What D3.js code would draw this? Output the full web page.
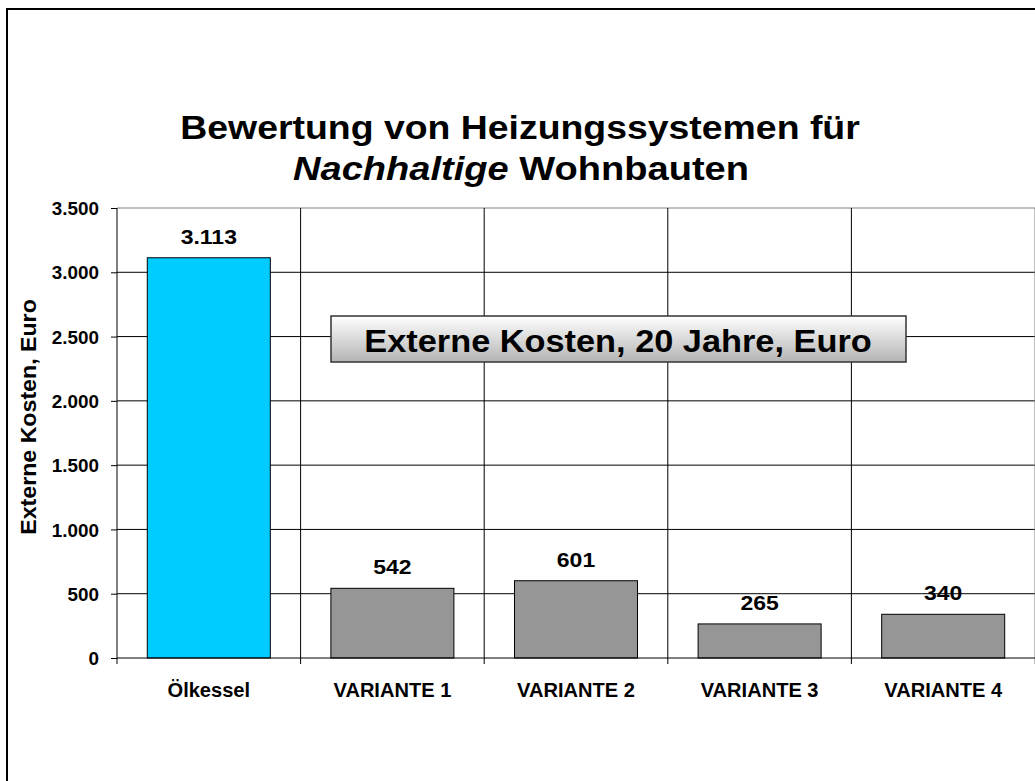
<!DOCTYPE html>
<html>
<head>
<meta charset="utf-8">
<script src="https://cdn.jsdelivr.net/npm/d3@7"></script>
<style>
  body { margin: 0; background: #fff; }
  svg { display: block; font-family: Arial, "Liberation Sans", sans-serif; }
</style>
</head>
<body>
<svg id="chart"></svg>
<script>
const categories = ["Ölkessel", "VARIANTE 1", "VARIANTE 2", "VARIANTE 3", "VARIANTE 4"];
const values = [3113, 542, 601, 265, 340];
const yTicks = [0, 500, 1000, 1500, 2000, 2500, 3000, 3500];
const barColors = ["#00ccff", "#969696", "#969696", "#969696", "#969696"];

const width = 1035, height = 781;
const margin = {top: 208, right: 0, bottom: 123, left: 117};
const FONT = "Arial, 'Liberation Sans', sans-serif";
const fmt = d => d3.format(",")(d).replace(/,/g, ".");

const svg = d3.select("#chart")
    .attr("width", width)
    .attr("height", height);

// outer frame of the chart object
svg.append("rect")
    .attr("x", 7).attr("y", 9)
    .attr("width", width + 10).attr("height", height + 10)
    .attr("fill", "none")
    .attr("stroke", "#000")
    .attr("stroke-width", 2);

const x = d3.scaleBand()
    .domain(categories)
    .range([margin.left, width])
    .paddingInner(0.33)
    .paddingOuter(0.165);

const y = d3.scaleLinear()
    .domain([0, 3500])
    .range([height - margin.bottom, margin.top]);

// text helper: the original glyphs are a bit wider than Arial
function label(parent, tx, ty, sx, size) {
    return parent.append("text")
        .attr("transform", `translate(${tx},${ty}) scale(${sx},1)`)
        .attr("text-anchor", "middle")
        .attr("font-weight", "bold")
        .attr("font-size", size);
}

// title
label(svg, 520, 139, 1.10, 34).text("Bewertung von Heizungssystemen für");
const t2 = label(svg, 521, 180, 1.12, 34);
t2.append("tspan").attr("font-style", "italic").text("Nachhaltige");
t2.append("tspan").text(" Wohnbauten");

// horizontal grid
svg.append("g")
    .selectAll("line")
    .data(yTicks.slice(1))
    .join("line")
    .attr("x1", margin.left).attr("x2", width)
    .attr("y1", d => y(d)).attr("y2", d => y(d))
    .attr("stroke", d => d === 3500 ? "#808080" : "#000")
    .attr("stroke-width", 1);

// vertical grid at band boundaries
const step = x.step();
const bounds = d3.range(categories.length + 1).map(i => margin.left + i * step);
svg.append("g")
    .selectAll("line")
    .data(bounds.slice(1))
    .join("line")
    .attr("x1", d => d).attr("x2", d => d)
    .attr("y1", y(3500)).attr("y2", y(0) + 6)
    .attr("stroke", (d, i) => i === categories.length - 1 ? "#808080" : "#000")
    .attr("stroke-width", 1);

// bars
svg.append("g")
    .selectAll("rect")
    .data(values)
    .join("rect")
    .attr("x", (d, i) => x(categories[i]))
    .attr("y", d => y(d))
    .attr("width", x.bandwidth())
    .attr("height", d => y(0) - y(d))
    .attr("fill", (d, i) => barColors[i])
    .attr("stroke", "#000")
    .attr("stroke-width", 1);

// value labels
const vals = svg.append("g");
values.forEach((d, i) => {
    label(vals, x(categories[i]) + x.bandwidth() / 2, y(d) - 14, 1.15, 20).text(fmt(d));
});

// y axis
const ySx = 1.02;
const yAxis = svg.append("g")
    .attr("transform", `translate(${margin.left},0)`)
    .call(d3.axisLeft(y).tickValues(yTicks).tickSize(6).tickPadding(12).tickFormat(fmt));
yAxis.select(".domain").attr("stroke", "#000").attr("d", `M0,${y(0)}V${y(3500)}`);
yAxis.selectAll("text")
    .attr("x", -18 / ySx)
    .attr("dy", "0.36em")
    .attr("transform", `scale(${ySx},1)`)
    .attr("font-size", 18.5)
    .attr("font-weight", "bold")
    .attr("font-family", FONT)
    .attr("fill", "#000");

// x axis
const xSx = 1.03;
const xAxis = svg.append("g")
    .attr("transform", `translate(0,${y(0)})`)
    .call(d3.axisBottom(x).tickSize(0).tickPadding(0));
xAxis.select(".domain").attr("stroke", "#000").attr("d", `M${margin.left},0H${width}`);
xAxis.selectAll(".tick text")
    .attr("y", 0)
    .attr("dy", 0)
    .attr("transform", `translate(0,39) scale(${xSx},1)`)
    .attr("font-size", 19.5)
    .attr("font-weight", "bold")
    .attr("font-family", FONT)
    .attr("fill", "#000");
svg.append("line")
    .attr("x1", margin.left).attr("x2", margin.left)
    .attr("y1", y(0)).attr("y2", y(0) + 6)
    .attr("stroke", "#000");

// y axis title
svg.append("text")
    .attr("transform", `translate(36,417) rotate(-90) scale(1.03,1)`)
    .attr("text-anchor", "middle")
    .attr("font-weight", "bold")
    .attr("font-size", 22.5)
    .text("Externe Kosten, Euro");

// legend-like box
const defs = svg.append("defs");
const grad = defs.append("linearGradient")
    .attr("id", "boxGrad")
    .attr("x1", 0).attr("y1", 0).attr("x2", 0).attr("y2", 1);
grad.append("stop").attr("offset", "0%").attr("stop-color", "#ffffff");
grad.append("stop").attr("offset", "100%").attr("stop-color", "#b4b4b4");

svg.append("rect")
    .attr("x", 331).attr("y", 316)
    .attr("width", 575).attr("height", 46)
    .attr("fill", "url(#boxGrad)")
    .attr("stroke", "#333")
    .attr("stroke-width", 1.5);
label(svg, 618, 352, 1.09, 31.5).text("Externe Kosten, 20 Jahre, Euro");
</script>
</body>
</html>
